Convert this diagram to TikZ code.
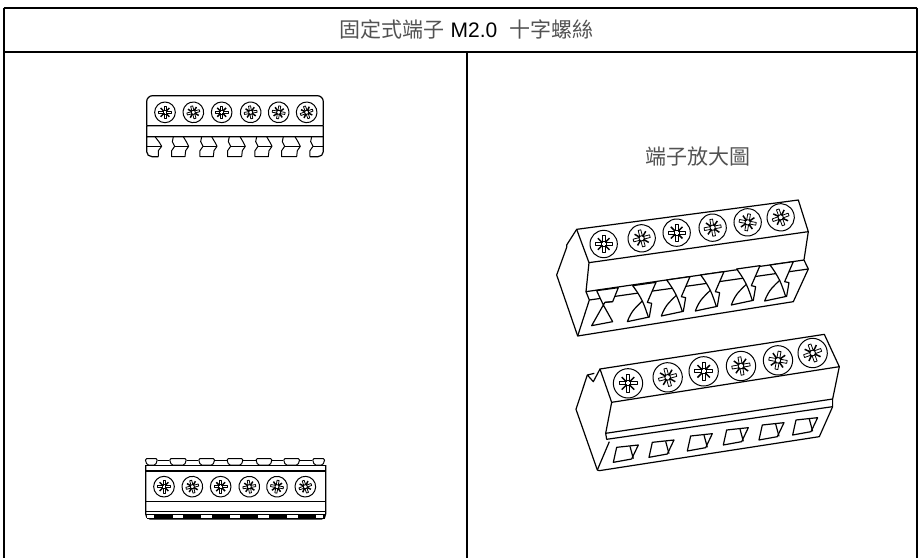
\documentclass[tikz,border=0pt]{standalone}
\usepackage{fontspec}
\setmainfont{Liberation Sans}
\newfontfamily\cjk{Noto Sans CJK TC}
\tikzset{
  frameline/.style={line width=2pt,black},
  part/.style={line width=1.2pt,black,line join=round},
  thin part/.style={line width=1pt,black,line join=round},
  caption/.style={inner sep=0pt,text=black,font=\fontsize{21}{23}\selectfont},
}
\newcommand{\cjktext}[1]{{\cjk\color{black!68}#1}}
% \screwhead{x}{y}{radius}{rotation}
\newcommand{\screwhead}[4]{%
  \begin{scope}[shift={(#1,#2)},rotate=#4]
    \draw[thin part] (0,0) circle (#3);
    \foreach \a in {45,135,225,315}{
      \draw[line width=1.5pt,rotate=\a] (0.14*#3,0) -- (0.6*#3,0);
    }
    \draw[line width=0.8pt,fill=white,line join=round]
      (-0.1*#3,-0.1*#3) -- (-0.1*#3,-0.62*#3) -- (0.1*#3,-0.62*#3) -- (0.1*#3,-0.1*#3)
      -- (0.62*#3,-0.1*#3) -- (0.62*#3,0.1*#3) -- (0.1*#3,0.1*#3)
      -- (0.1*#3,0.62*#3) -- (-0.1*#3,0.62*#3) -- (-0.1*#3,0.1*#3)
      -- (-0.62*#3,0.1*#3) -- (-0.62*#3,-0.1*#3) -- cycle;
    \draw[line width=1pt] (-0.18*#3,-0.18*#3) rectangle (0.18*#3,0.18*#3);
    \fill[white] (-0.1*#3,-0.1*#3) rectangle (0.1*#3,0.1*#3);
  \end{scope}}
\begin{document}
\begin{tikzpicture}[x=1pt,y=-1pt]
\useasboundingbox (0,0) rectangle (918,558);
% table frame
\coordinate (tl) at (3.5,7.5); \coordinate (tr) at (917,7.5);
\coordinate (hl) at (3.5,52); \coordinate (hr) at (917,52);
\coordinate (bl) at (3.5,558); \coordinate (br) at (917,558);
\coordinate (mt) at (467,52); \coordinate (mb) at (467,558);
\draw[frameline] (tl) -- (tr) (hl) -- (hr) (tl) -- (bl) (tr) -- (br);
\draw[frameline] (mt) -- (mb);
\node[caption] (title) at (466.5,29) {\cjktext{固定式端子}\hspace{6pt}M2.0\hspace{12pt}\cjktext{十字螺絲}};
\node[caption] (zoomcap) at (697.5,157) {\cjktext{端子放大圖}};

% top view
\begin{scope}[shift={(130,85)},x=0.3333pt,y=-0.3333pt]
  \draw[part] (50,122) -- (50,50) to[out=90,in=180] (68,32) -- (562,32) to[out=0,in=90] (580,50) -- (580,122);
  \draw[part] (50,122) -- (580,122) (50,155) -- (580,155) (50,122) -- (50,200) to[out=-90,in=180] (66,215) -- (85,215);
  \draw[part] (580,122) -- (580,200) to[out=-90,in=0] (564,215) -- (540,215);
  \foreach \l/\r in {130/170,215/255,298/340,380/420,460/505}{
    \draw[thin part] (\l,155) -- (\l-3,170) -- (\l+4,184) -- (\l-5,197) -- (\l-5,215) -- (\r-5,215) -- (\r-3,197) -- (\r+6,184) -- (\r,172) -- (\r-10,155);
    \draw[thin part] (\l+4,184) -- (\r+6,184);
  }
  \draw[thin part] (75,155) -- (88,172) -- (95,184) -- (85,197) -- (85,215);
  \draw[thin part] (50,184) -- (95,184);
  \draw[thin part] (545,155) -- (542,170) -- (549,184) -- (540,197) -- (540,215);
  \draw[thin part] (549,184) -- (580,184);
  \foreach \x/\r in {105/0,190/15,275/0,362/10,446/-10,530/20}{
    \screwhead{\x}{82}{31}{\r}
  }
\end{scope}

% front view
\begin{scope}[shift={(130,445)},x=0.3333pt,y=-0.3333pt]
  \foreach \a/\b in {45/83,118/170,205/255,290/340,377/427,460/510,547/585}{
    \draw[thin part,rounded corners=1.5pt] (\a,41) -- (\b,41) -- (\b-6,60) -- (\a+6,60) -- cycle;
  }
  \foreach \a/\b in {83/118,170/205,255/290,340/377,427/460,510/547}{
    \draw[thin part] (\a,47) -- (\b,47);
  }
  \draw[part] (47,60) -- (47,207) to[out=-90,in=180] (60,222) -- (575,222) to[out=0,in=-90] (587,207) -- (587,60);
  \draw[part] (47,62) -- (587,62) (47,78) -- (587,78);
  \draw[part] (47,170) -- (587,170) (47,200) -- (587,200) (47,208) -- (587,208);
  \foreach \x/\r in {102/0,187/15,272/0,358/10,441/-10,526/20}{
    \screwhead{\x}{125}{31}{\r}
  }
  \fill[black] (50,209) rectangle (584,222);
  \foreach \a/\b in {52/72,128/160,213/247,300/330,385/418,472/503,558/578}{
    \fill[white] (\a,211) rectangle (\b,218);
  }
\end{scope}

% enlarged upper connector
\begin{scope}[shift={(550,195)},x=0.3333pt,y=-0.3333pt]
  \draw[part] (80,103) -- (745,15) -- (775,110) -- (117,203) -- cycle;
  \draw[part] (80,103) -- (50,150) -- (50,157) -- (20,240) -- (83,423) -- (730,320) -- (775,222) -- (762,195) -- (775,110);
  \draw[part] (117,203) -- (108,290) -- (762,195);
  \draw[part] (108,290) -- (118,315) -- (83,423);
  \draw[part] (118,315) -- (775,222);
  \foreach \x/\y/\r in {161/147/0,275/130/15,380/113/0,488/98/10,593/82/-10,692/67/20}{
    \screwhead{\x}{\y}{41}{\r}
  }
  % first tooth
  \draw[part,fill=white] (140,287) -- (205,278) -- (188,320) -- (165,322) -- (160,330) -- (188,380) -- (125,392) -- (160,330) -- cycle;
  \draw[thin part] (165,322) -- (188,320);
  % twisted teeth
  \foreach \dx/\dy in {0/0,102/-17,204/-32,312/-50,412/-62}{
    \begin{scope}[shift={(\dx,\dy)}]
      \draw[part,fill=white] (248,272) -- (318,262) -- (292,322) -- (305,325) -- (298,366) -- (232,380)
        .. controls (245,345) and (260,335) .. (277,318) .. controls (268,300) and (258,285) .. (248,272) -- cycle;
      \draw[part] (277,318) .. controls (285,335) and (290,352) .. (295,366);
    \end{scope}
  }
\end{scope}

% enlarged lower connector
\begin{scope}[shift={(550,330)},x=0.3333pt,y=-0.3333pt]
  \draw[part] (150,117) -- (823,13) -- (868,110) -- (185,217) -- cycle;
  \draw[part] (150,117) -- (130,155) -- (112,135) -- (133,130);
  \draw[part] (112,135) -- (78,238) -- (142,420) -- (148,422) -- (808,320) -- (848,230) -- (848,207) -- (868,110);
  \draw[part] (185,217) -- (167,310) -- (848,207);
  \draw[part] (167,310) -- (170,328) -- (848,230);
  \draw[part] (178,335) -- (142,420);
  \foreach \x/\y/\r in {234/160/0,353/142/15,461/124/0,573/108/10,684/91/-10,788/69/20}{
    \screwhead{\x}{\y}{44}{\r}
  }
  \foreach \dx/\dy in {0/0,107/-15,222/-34,330/-52,437/-67,538/-82}{
    \begin{scope}[shift={(\dx,\dy)}]
      \draw[part] (200,352) -- (265,345) -- (245,387) -- (190,397) -- cycle;
      \draw[part] (240,349) -- (250,386);
    \end{scope}
  }
\end{scope}
\end{tikzpicture}
\end{document}
